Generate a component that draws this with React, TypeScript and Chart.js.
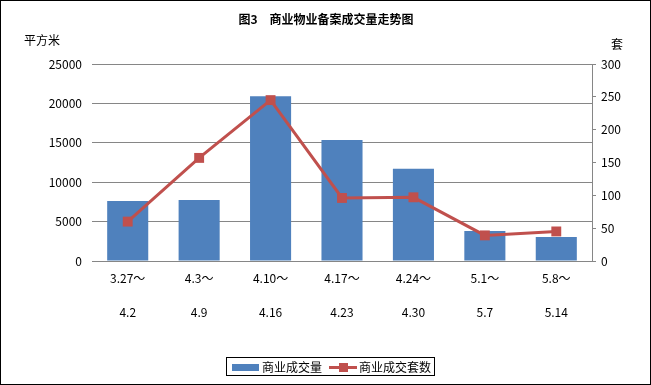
import React, { useEffect, useRef } from 'react';
import { Chart, registerables } from 'chart.js';

Chart.register(...registerables);

const titleText = '图3　商业物业备案成交量走势图';
const leftUnit = '平方米';
const rightUnit = '套';
const periodStarts = ['3.27～', '4.3～', '4.10～', '4.17～', '4.24～', '5.1～', '5.8～'];
const periodEnds = ['4.2', '4.9', '4.16', '4.23', '4.30', '5.7', '5.14'];
const areaLabel = '商业成交量';
const unitLabel = '商业成交套数';
const areaValues = [7600, 7750, 20900, 15350, 11700, 3800, 3050];
const unitValues = [60, 157, 245, 96, 97, 39, 45];

const BLUE = '#4F81BD';
const RED = '#C0504D';
const GRID = '#868686';
const FONT = '"Noto Sans CJK SC", "DejaVu Sans", sans-serif';

const extras = {
  id: 'extras',
  beforeDraw(chart: any) {
    const ctx = chart.ctx;
    ctx.save();
    ctx.fillStyle = '#ffffff';
    ctx.fillRect(0, 0, chart.width, chart.height);
    ctx.restore();
  },
  afterDraw(chart: any) {
    const ctx = chart.ctx;
    ctx.save();
    ctx.fillStyle = '#000';
    ctx.textBaseline = 'middle';
    ctx.font = `bold 12px ${FONT}`;
    ctx.textAlign = 'center';
    ctx.fillText(titleText, 326, 19);
    ctx.font = `12px ${FONT}`;
    ctx.textAlign = 'left';
    ctx.fillText(leftUnit, 24, 40);
    ctx.fillText(rightUnit, 611, 44);

    // legend
    ctx.strokeStyle = '#000';
    ctx.lineWidth = 1;
    ctx.strokeRect(226.5, 357.5, 208, 18);
    ctx.fillStyle = BLUE;
    ctx.fillRect(232, 364, 27, 7);
    ctx.fillStyle = '#000';
    ctx.fillText(areaLabel, 262, 367);
    ctx.strokeStyle = RED;
    ctx.lineWidth = 3;
    ctx.beginPath();
    ctx.moveTo(329, 367.5);
    ctx.lineTo(357, 367.5);
    ctx.stroke();
    ctx.fillStyle = RED;
    ctx.fillRect(339, 363, 9, 9);
    ctx.fillStyle = '#000';
    ctx.fillText(unitLabel, 359, 367);

    // outer frame
    ctx.strokeStyle = '#000';
    ctx.lineWidth = 1;
    ctx.strokeRect(0.5, 0.5, chart.width - 1, chart.height - 1);
    ctx.restore();
  },
};

export default function App() {
  const ref = useRef<HTMLCanvasElement | null>(null);
  useEffect(() => {
    if (!ref.current) return;
    const labels = periodStarts.map((s, i) => [s, periodEnds[i]]);
    const chart = new Chart(ref.current, {
      type: 'bar',
      data: {
        labels,
        datasets: [
          {
            type: 'line',
            label: unitLabel,
            data: unitValues,
            yAxisID: 'y1',
            borderColor: RED,
            backgroundColor: RED,
            borderWidth: 3,
            pointStyle: 'rect',
            pointRadius: 7,
            pointBackgroundColor: RED,
            pointBorderColor: RED,
            pointBorderWidth: 0,
            tension: 0,
            order: 0,
          } as any,
          {
            type: 'bar',
            label: areaLabel,
            data: areaValues,
            yAxisID: 'y',
            backgroundColor: BLUE,
            borderWidth: 0,
            categoryPercentage: 1,
            barPercentage: 0.575,
            order: 1,
          } as any,
        ],
      },
      options: {
        responsive: false,
        animation: false,
        layout: { padding: { top: 64, left: 0, right: 0, bottom: 0 } },
        plugins: {
          legend: { display: false },
          title: { display: false },
          tooltip: { enabled: false },
        },
        scales: {
          x: {
            offset: true,
            grid: { display: false, drawTicks: false },
            border: { display: true, color: GRID, width: 1 },
            ticks: {
              color: '#000',
              padding: 0,
              maxRotation: 0,
              autoSkip: false,
              font: { family: FONT, size: 12, lineHeight: '34px' } as any,
            },
            afterFit(scale: any) {
              scale.height = 124;
            },
          },
          y: {
            position: 'left',
            min: 0,
            max: 25000,
            grid: { color: GRID, drawTicks: false, lineWidth: 1 },
            border: { display: false },
            ticks: {
              stepSize: 5000,
              padding: 10,
              color: '#000',
              font: { family: FONT, size: 12 },
              callback: (v: any) => String(v),
            },
            afterFit(scale: any) {
              scale.width = 92;
            },
          },
          y1: {
            position: 'right',
            min: 0,
            max: 300,
            grid: { drawOnChartArea: false, color: GRID, tickLength: 4 },
            border: { display: true, color: GRID },
            ticks: {
              stepSize: 50,
              padding: 5,
              color: '#000',
              font: { family: FONT, size: 12 },
              callback: (v: any) => String(v),
            },
            afterFit(scale: any) {
              scale.width = 59;
            },
          },
        },
      },
      plugins: [extras],
    });
    return () => chart.destroy();
  }, []);

  return (
    <div style={{ position: 'absolute', left: 0, top: 0, width: 651, height: 385 }}>
      <canvas ref={ref} width={651} height={385} style={{ display: 'block' }} />
    </div>
  );
}
